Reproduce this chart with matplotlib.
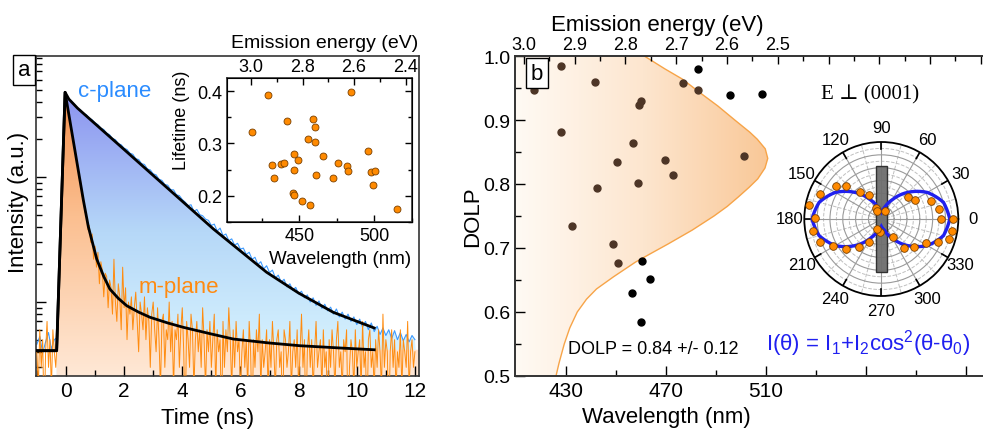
import numpy as np
import matplotlib
matplotlib.use("Agg")
import matplotlib.pyplot as plt
from matplotlib.colors import LinearSegmentedColormap
from matplotlib.patches import Polygon, Rectangle, PathPatch
from matplotlib.path import Path
from matplotlib.ticker import (MultipleLocator, LogLocator, NullFormatter,
                               FixedLocator, FixedFormatter)

plt.rcParams["font.family"] = ["Liberation Sans", "DejaVu Sans"]
plt.rcParams["mathtext.default"] = "regular"

W, H = 983, 431

# ---- panel a: time-resolved PL (counts vs time) ----
T0 = -1.0
M_STEP = 0.05
C_STEP = 0.1

mplane_counts = [
    4, 2, 6, 3, 5, 1, 4, 7, 3, 5, 2, 6, 4, 3,
    5, 9, 21, 48, 115, 260,
    440, 365, 330, 262, 238, 188, 175, 136, 128, 98, 94, 70, 68, 52, 51, 38,
    41, 30, 35, 22, 28, 19, 25, 14, 21, 18, 11, 17, 16, 9, 15,
    13, 8, 22, 10, 7, 14, 11, 6, 19, 9, 13, 5, 10, 8, 11, 6, 9, 12, 7, 4,
    10, 8, 6, 11, 5, 9, 7, 3, 8, 10,
    6, 4, 9, 5, 2, 7, 8, 3, 6, 5, 10, 4, 7, 2, 6, 5, 8, 3, 6, 9,
    4, 1, 7, 5, 3, 8, 6, 2, 5, 7, 4, 6, 3, 9, 5, 2, 6, 4, 7, 3,
    5, 8, 2, 6, 4, 5, 1, 7, 3, 6, 4, 9, 5, 2, 6, 3, 7, 4, 5, 2,
    4, 6, 3, 5, 2, 7, 4, 1, 5, 3, 6, 4, 8, 2, 5, 3, 4, 6, 2, 5,
    3, 7, 4, 2, 5, 6, 3, 4, 1, 6, 5, 3, 4, 7, 2, 4, 5, 3, 6, 2,
    4, 8, 3, 5, 1, 4, 6, 3, 5, 2, 4, 7, 3, 4, 5, 2, 6, 3, 4, 1,
    5, 3, 6, 4, 2, 5, 7, 3, 4, 2, 5, 4, 6, 1, 3, 5, 4, 2, 6, 3,
    4, 5, 2, 7, 3, 4, 1, 5, 6, 3, 4, 2, 5, 3, 6, 4, 2, 8, 3, 5,
    4, 1, 4, 6, 3, 5, 2, 4, 3, 6, 2, 5, 4, 3, 7, 2, 4, 5, 3, 4,
]

cplane_counts = [
    4.6, 5.3, 3.9, 4.8, 5.7, 4.2, 5.0,
    5.2, 32, 170, 455,
    418, 402, 381, 352, 344, 321, 315, 296, 287, 271,
    262, 246, 240, 224, 218, 203, 199, 185, 181, 170,
    166, 155, 152, 140, 138, 128, 126, 116, 114, 106,
    104, 96, 94, 87, 86, 79, 79, 72, 71, 66,
    63, 59, 60, 53, 55, 50, 49, 46, 45, 41,
    42, 37, 39, 34, 35, 31, 32, 28.5, 29.5, 26.5,
    27, 24, 25, 22, 22.8, 20, 21, 18.4, 19.5, 17.2,
    18, 15.6, 16.4, 14.4, 15.2, 13.2, 14, 12.4, 13.1, 11.6,
    12.2, 10.8, 11.4, 10, 10.8, 9.4, 10.2, 8.9, 9.6, 8.5,
    9.1, 8.0, 8.8, 7.6, 8.3, 7.3, 8.0, 7.0, 7.6, 6.6,
    7.3, 6.3, 7.0, 6.0, 6.8, 5.8, 6.4, 5.5, 6.2, 5.4,
    6.0, 5.1, 5.9, 5.0, 5.7, 4.9, 5.5, 4.8, 5.4, 5.0,
]

cfit_t = [-1.0, -0.32, -0.03, 0.1, 0.4, 1.0, 2.0, 3.0, 4.0, 5.07, 6.0, 6.9, 8.0, 9.19, 10.6]
cfit_i = [4.08, 4.08, 476, 420, 355, 267, 166, 103, 64, 38.4, 25.6, 17.3, 11.8, 8.28, 6.2]

mfit_t = [-1.0, -0.32, -0.03, 0.2, 0.4, 0.6, 0.77, 1.06, 1.3, 1.51, 1.8, 2.09, 2.5,
          2.89, 3.5, 4.03, 5.0, 5.75, 7.0, 8.05, 9.5, 10.6]
mfit_i = [4.08, 4.08, 476, 230, 122, 65, 40, 22, 16, 12.7, 10.7, 9.34, 8.3,
          7.55, 6.8, 6.28, 5.55, 5.06, 4.7, 4.47, 4.28, 4.15]

# inset: lifetime vs wavelength
inset_wl = [418.4, 429.1, 431.8, 433.3, 437.8, 440.0, 442.2, 446.7, 446.7, 448.9,
            446.2, 446.7, 451.8, 455.8, 456.9, 459.5, 460.7, 460.4, 460.9, 465.8,
            472.5, 475.8, 481.5, 482.7, 484.2, 495.5, 497.8, 500.7, 499.1, 515.1]
inset_tau = [0.322, 0.393, 0.259, 0.234, 0.261, 0.262, 0.342, 0.279, 0.250, 0.269,
             0.205, 0.202, 0.190, 0.309, 0.182, 0.347, 0.331, 0.303, 0.239, 0.276,
             0.234, 0.263, 0.256, 0.248, 0.399, 0.286, 0.246, 0.247, 0.220, 0.174]

# ---- panel b: DOLP vs wavelength ----
in_wl = [428.0, 417.1, 441.6, 476.9, 482.7, 460.0, 459.3, 428.0, 456.8, 501.3,
         450.4, 469.6, 472.7, 458.7, 442.4, 432.3, 448.7, 450.7]
in_dolp = [0.984, 0.947, 0.960, 0.958, 0.947, 0.929, 0.923, 0.882, 0.864, 0.843,
           0.834, 0.838, 0.814, 0.802, 0.794, 0.735, 0.707, 0.676]
out_wl = [482.7, 495.5, 508.4, 460.3, 463.7, 456.3, 460.0]
out_dolp = [0.979, 0.939, 0.941, 0.679, 0.652, 0.629, 0.585]

dist_dolp = [0.50, 0.52, 0.55, 0.575, 0.60, 0.62, 0.636, 0.655, 0.678, 0.692, 0.706,
             0.728, 0.75, 0.765, 0.78, 0.795, 0.808, 0.825, 0.84, 0.855, 0.87, 0.881,
             0.90, 0.922, 0.94, 0.964, 0.98, 1.00]
dist_wl = [426, 427.2, 429.3, 431.5, 434.5, 438.2, 442.2, 449.0, 457.8, 464.2, 470.7,
           480.5, 489.2, 494.5, 499, 503.3, 506.7, 509.6, 510.7, 509.7, 506.5, 503.5,
           497.5, 490.7, 484.5, 476.5, 469.5, 461.3]

# polar inset
pol_deg = [39.6, 29.8, 19.6, 9.8, 0.0, 0.0, 350.1, 343.4, 337.5, 331.8, 319.5, 308.4,
           303.3, 66.0, 114.0, 264.0,
           157.6, 144.1, 136.7, 128.0, 116.6, 119.5, 168.9, 179.4, 189.8, 200.3,
           209.6, 220.4, 231.1, 242.1, 244.8]
pol_r = [0.549, 0.609, 0.827, 0.918, 0.937, 1.114, 1.120, 1.097, 0.957, 0.796, 0.661,
         0.581, 0.344, 0.143, 0.184, 0.210,
         1.029, 0.865, 0.748, 0.543, 0.420, 0.149, 1.141, 1.040, 1.083, 1.026,
         0.866, 0.726, 0.551, 0.403, 0.173]
fit_deg = list(range(0, 375, 15))
fit_r = [1.067, 1.003, 0.828, 0.588, 0.349, 0.174, 0.110, 0.174, 0.349, 0.588, 0.828,
         1.003, 1.08, 1.003, 0.828, 0.588, 0.349, 0.174, 0.115, 0.174, 0.349, 0.588,
         0.828, 1.003, 1.067]


def fx(x):
    return x / W


def fy(y):
    return 1 - y / H


def gradient_fill(ax, verts, cmap, horizontal=False, extent=None):
    patch = Polygon(verts, closed=True, facecolor="none", edgecolor="none",
                    transform=ax.transData)
    ax.add_patch(patch)
    grad = np.linspace(0, 1, 256)
    grad = grad.reshape(1, -1) if horizontal else grad.reshape(-1, 1)
    if extent is None:
        im = ax.imshow(grad, extent=(0, 1, 0, 1), transform=ax.transAxes,
                       cmap=cmap, aspect="auto", origin="lower", zorder=1)
    else:
        im = ax.imshow(grad, extent=extent, cmap=cmap, aspect="auto",
                       origin="lower", zorder=1)
    im.set_clip_path(patch)


def style_spines(ax):
    for s in ax.spines.values():
        s.set_linewidth(1.2)
        s.set_color("#333333")


fig = plt.figure(figsize=(W / 100, H / 100), dpi=100)

# ---------------- panel a ----------------
ax = fig.add_axes([fx(36), fy(377), fx(419) - fx(36), fy(57) - fy(377)])
ax.set_yscale("log")
ax.set_xlim(-1.03, 12.14)
ax.set_ylim(2.56, 929)
ax.set_autoscale_on(False)

t_m = T0 + M_STEP * np.arange(len(mplane_counts))
t_c = T0 + C_STEP * np.arange(len(cplane_counts))
cfit_t = np.array(cfit_t)
mfit_t = np.array(mfit_t)

blue_cmap = LinearSegmentedColormap.from_list(
    "bl", [(0.0, "#dcf7ff"), (0.45, "#b6d8f8"), (1.0, "#8080ee")])
orange_cmap = LinearSegmentedColormap.from_list(
    "or", [(0.0, "#ffe8d6"), (0.5, "#fbbf90"), (1.0, "#f2833a")])

sel = cfit_t >= -0.32
tail = t_c > cfit_t[-1]
cv = list(zip(cfit_t[sel], np.array(cfit_i)[sel])) + list(zip(t_c[tail], np.array(cplane_counts)[tail]))
cv = [(-0.32, 1.0)] + cv + [(12.2, 1.0)]
gradient_fill(ax, cv, blue_cmap)

sel = mfit_t >= -0.32
mv = list(zip(mfit_t[sel], np.array(mfit_i)[sel]))
mv = [(-0.32, 1.0)] + mv + [(12.2, mv[-1][1]), (12.2, 1.0)]
gradient_fill(ax, mv, orange_cmap)

ax.plot(t_c, cplane_counts, color="#3d9bff", lw=0.8, zorder=2)
ax.plot(t_m, mplane_counts, color="#ff8c10", lw=0.7, zorder=3)
ax.plot(cfit_t, cfit_i, color="black", lw=2.0, zorder=4)
ax.plot(mfit_t, mfit_i, color="black", lw=2.0, zorder=4)

ax.xaxis.set_major_locator(MultipleLocator(2))
ax.xaxis.set_minor_locator(MultipleLocator(1))
ax.yaxis.set_major_locator(LogLocator(base=10))
ax.yaxis.set_minor_locator(LogLocator(base=10, subs=range(2, 10)))
ax.yaxis.set_major_formatter(NullFormatter())
ax.yaxis.set_minor_formatter(NullFormatter())
ax.tick_params(which="both", direction="in", labelsize=15, width=1)
ax.tick_params(which="major", length=7)
ax.tick_params(which="minor", length=4)
style_spines(ax)

fig.text(fx(208), fy(419), "Time (ns)", ha="center", va="center", fontsize=16)
fig.text(fx(19), fy(202), "Intensity (a.u.)", ha="center", va="center",
         rotation=90, fontsize=16)
fig.text(fx(115), fy(92), "c-plane", color="#2b8cff", ha="center", va="center",
         fontsize=16)
fig.text(fx(179), fy(287), "m-plane", color="#ff8a10", ha="center", va="center",
         fontsize=16)
fig.text(fx(24), fy(71), "a", ha="center", va="center", fontsize=16,
         bbox=dict(boxstyle="square,pad=0.2", fc="white", ec="black", lw=1))

# inset
axi = fig.add_axes([fx(227), fy(223), fx(412) - fx(227), fy(79) - fy(223)])
axi.set_zorder(5)
axi.set_facecolor("white")
axi.plot(inset_wl, inset_tau, "o", mfc="#ff8a00", mec="#7a4000", mew=0.6, ms=5)
axi.set_xlim(402, 525)
axi.set_ylim(0.15, 0.425)
axi.xaxis.set_major_locator(MultipleLocator(50))
axi.xaxis.set_minor_locator(MultipleLocator(25))
axi.yaxis.set_major_locator(MultipleLocator(0.1))
axi.yaxis.set_minor_locator(MultipleLocator(0.05))
axi.tick_params(which="both", direction="in", labelsize=13, right=True, width=1)
axi.tick_params(which="major", length=5)
axi.tick_params(which="minor", length=3)
style_spines(axi)
axi_top = axi.twiny()
axi_top.set_xlim(3.0935, 2.375)
axi_top.xaxis.set_major_locator(MultipleLocator(0.2))
axi_top.xaxis.set_minor_locator(MultipleLocator(0.1))
axi_top.xaxis.set_major_formatter(plt.FuncFormatter(lambda v, p: f"{v:.1f}"))
axi_top.tick_params(which="both", direction="in", labelsize=13, width=1, pad=2)
axi_top.tick_params(which="major", length=5)
axi_top.tick_params(which="minor", length=3)
fig.text(fx(340), fy(260), "Wavelength (nm)", ha="center", va="center", fontsize=13.5)
fig.text(fx(325), fy(44), "Emission energy (eV)", ha="center", va="center", fontsize=14)
fig.text(fx(182), fy(120), "Lifetime (ns)", ha="center", va="center", rotation=90,
         fontsize=13)

# ---------------- panel b ----------------
axb = fig.add_axes([fx(515), fy(377), fx(990) - fx(515), fy(57) - fy(377)])
axb.set_xlim(409.6, 599.6)
axb.set_ylim(0.5, 1.0)
axb.set_autoscale_on(False)

peach = LinearSegmentedColormap.from_list("pe", ["#fffaf4", "#fde6cf", "#f9c796"])
dv = [(409.6, 0.5)] + list(zip(dist_wl, dist_dolp)) + [(409.6, 1.0)]
gradient_fill(axb, dv, peach, horizontal=True, extent=(409.6, 512, 0.5, 1.0))
axb.plot(dist_wl, dist_dolp, color="#f7a448", lw=1.0, zorder=2)
axb.plot(in_wl, in_dolp, "o", color="#4d3526", ms=5, zorder=3)
axb.plot(out_wl, out_dolp, "o", color="black", ms=5, zorder=3)

axb.xaxis.set_major_locator(FixedLocator([430, 470, 510, 550, 590]))
axb.xaxis.set_major_formatter(FixedFormatter(["430", "470", "510", "", ""]))
axb.xaxis.set_minor_locator(FixedLocator([450, 490, 530, 570]))
axb.yaxis.set_major_locator(MultipleLocator(0.1))
axb.yaxis.set_minor_locator(MultipleLocator(0.05))
axb.yaxis.set_major_formatter(plt.FuncFormatter(lambda v, p: f"{v:.1f}"))
axb.tick_params(which="both", direction="in", labelsize=15, width=1)
axb.tick_params(axis="y", labelsize=14)
axb.tick_params(which="major", length=7)
axb.tick_params(which="minor", length=4)
axb.spines["right"].set_visible(False)
style_spines(axb)

axb_top = axb.twiny()
axb_top.set_xlim(3.0177, 2.0818)
e_major = [3.0, 2.9, 2.8, 2.7, 2.6, 2.5, 2.4, 2.3, 2.2, 2.1]
axb_top.xaxis.set_major_locator(FixedLocator(e_major))
axb_top.xaxis.set_major_formatter(FixedFormatter(
    ["3.0", "2.9", "2.8", "2.7", "2.6", "2.5", "", "", "", ""]))
axb_top.xaxis.set_minor_locator(MultipleLocator(0.05))
axb_top.tick_params(which="both", direction="in", labelsize=13, width=1, pad=2)
axb_top.tick_params(which="major", length=6)
axb_top.tick_params(which="minor", length=3.5)
axb_top.spines["right"].set_visible(False)
style_spines(axb_top)

fig.text(fx(657), fy(25), "Emission energy (eV)", ha="center", va="center", fontsize=16)
fig.text(fx(666), fy(418), "Wavelength (nm)", ha="center", va="center", fontsize=16)
fig.text(fx(473), fy(217), "DOLP", ha="center", va="center", rotation=90, fontsize=16)
fig.text(fx(653), fy(349.5), "DOLP = 0.84 +/- 0.12", ha="center", va="center",
         fontsize=13)
fig.text(fx(537), fy(74), "b", ha="center", va="center", fontsize=16, zorder=10,
         bbox=dict(boxstyle="square,pad=0.2", fc="white", ec="black", lw=1))
fig.text(fx(870), fy(95), "E \u22a5 (0001)", ha="center", va="center", fontsize=15,
         family=["Liberation Serif", "DejaVu Serif"])
fig.text(fx(868), fy(344), r"I(θ) = I$_1$+I$_2$cos$^2$(θ-θ$_0$)", color="#2020f0",
         ha="center", va="center", fontsize=16)

# polar inset
R = 77
axp = fig.add_axes([fx(881.3 - R), fy(220 + R), 2 * R / W, 2 * R / H], projection="polar")
axp.set_zorder(6)
axp.set_ylim(0, 1.2)
axp.set_rticks([0.2, 0.4, 0.6, 0.8, 1.0])
axp.set_yticklabels([])
axp.set_thetagrids(range(0, 360, 30), [str(a) for a in range(0, 360, 30)], fontsize=12)
axp.tick_params(axis="x", pad=0)
axp.grid(True, color="#9a9a9a", lw=0.8, ls="-")
ring = np.linspace(0, 2 * np.pi, 361)
for r in [0.1, 0.3, 0.5, 0.7, 0.9, 1.1]:
    axp.plot(ring, np.full_like(ring, r), color="#c0c0c0", lw=0.7, ls="--", zorder=1)
for a in range(15, 360, 30):
    axp.plot([np.deg2rad(a)] * 2, [0, 1.2], color="#c0c0c0", lw=0.7, ls="--", zorder=1)
for a in range(0, 360, 30):
    axp.plot([np.deg2rad(a)] * 2, [1.09, 1.2], color="black", lw=1.2, zorder=2)
axp.spines["polar"].set_color("black")
axp.spines["polar"].set_linewidth(1.3)
axp.add_patch(Rectangle((0.5 - 0.035, 0.5 - 0.343), 0.07, 0.686,
                        transform=axp.transAxes, fc="#6e6e6e", ec="#2a2a2a",
                        lw=1, alpha=0.95, zorder=3))
# let the polar transform draw the fit between the read samples as curves
fit_path = Path(np.column_stack([np.deg2rad(fit_deg), fit_r]), _interpolation_steps=30)
axp.add_patch(PathPatch(fit_path, fill=False, edgecolor="#2020ee", lw=2.4, zorder=4,
                        transform=axp.transData))
axp.plot(np.deg2rad(pol_deg), pol_r, "o", mfc="#ff8a00", mec="#7a4000", mew=0.6,
         ms=5.5, zorder=5)

fig.savefig("out.png", dpi=100)
